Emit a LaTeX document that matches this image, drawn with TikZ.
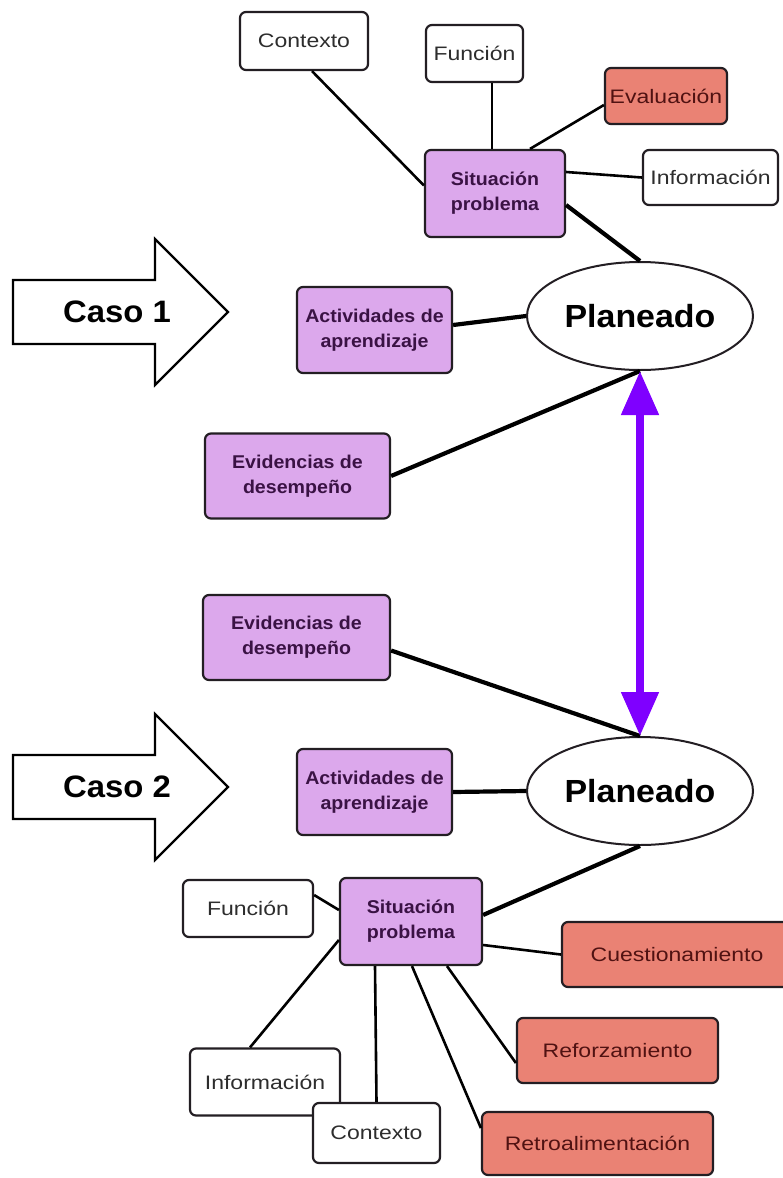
\documentclass[tikz,border=0pt]{standalone}
\usepackage{fontspec}
\setmainfont{Liberation Sans}
\newfontfamily\rfont[FakeStretch=1.18]{Liberation Sans}
\newfontfamily\bfont[FakeStretch=1.06]{Liberation Sans Bold}
\usetikzlibrary{arrows.meta,shapes.geometric}
\definecolor{pfill}{RGB}{220,168,236}
\definecolor{ptext}{RGB}{58,18,68}
\definecolor{rfill}{RGB}{234,130,116}
\definecolor{rtext}{RGB}{80,18,18}
\definecolor{wtext}{RGB}{45,45,45}
\definecolor{bordc}{RGB}{35,30,35}
\definecolor{violetarrow}{RGB}{127,0,255}
\tikzset{
  box/.style={draw=bordc, line width=2.2pt, rounded corners=6pt, inner sep=0pt, align=center},
  wbox/.style={box, fill=white, text=wtext, font=\rfont\fontsize{19.5}{23}\selectfont},
  rbox/.style={box, fill=rfill, text=rtext, font=\rfont\fontsize{19.5}{23}\selectfont},
  pbox/.style={box, fill=pfill, text=ptext, font=\bfont\fontsize{18.5}{25}\selectfont},
  plan/.style={ellipse, draw=bordc, line width=2pt, fill=white, inner sep=0pt, minimum width=226pt, minimum height=108pt, font=\bfont\fontsize{32}{36}\selectfont},
  thin/.style={draw=black, line width=2.6pt},
  thick/.style={draw=black, line width=4.2pt},
  casoarrow/.style={draw=black, line width=2.2pt, fill=white, line join=miter},
  casotext/.style={font=\bfont\fontsize{31}{36}\selectfont, text=black, inner sep=0pt},
  dbl/.style={draw=violetarrow, line width=8pt, {Triangle[length=44pt,width=36pt]}-{Triangle[length=44pt,width=36pt]}}
}
\begin{document}
\begin{tikzpicture}[x=1pt,y=-1pt]
\useasboundingbox[fill=white] (0,0) rectangle (783,1178);

% ---------- Caso arrows ----------
\draw[casoarrow] (13,280) -- (155,280) -- (155,239) -- (228,312) -- (155,385) -- (155,344) -- (13,344) -- cycle;
\node[casotext] (caso1) at (117,312) {Caso 1};
\draw[casoarrow] (13,755) -- (155,755) -- (155,714) -- (228,787) -- (155,860) -- (155,819) -- (13,819) -- cycle;
\node[casotext] (caso2) at (117,787) {Caso 2};

% ---------- Top group ----------
\node[wbox, minimum width=128pt, minimum height=58pt] (ctx1) at (304,41) {Contexto};
\node[wbox, minimum width=97pt, minimum height=57pt] (fun1) at (474.5,53.5) {Función};
\node[rbox, minimum width=122pt, minimum height=56pt] (eva1) at (666,96) {Evaluación};
\node[wbox, minimum width=135pt, minimum height=55pt] (inf1) at (710.5,177.5) {Información};
\node[pbox, minimum width=140pt, minimum height=87pt] (sit1) at (495,193.5) {Situación\\problema};
\node[plan] (pla1) at (640,316) {Planeado};
\node[pbox, minimum width=155pt, minimum height=86pt] (act1) at (374.5,330) {Actividades de\\aprendizaje};
\node[pbox, minimum width=185pt, minimum height=85pt] (evi1) at (297.5,476) {Evidencias de\\desempeño};

% ---------- Bottom group ----------
\node[pbox, minimum width=187pt, minimum height=85pt] (evi2) at (296.5,637.5) {Evidencias de\\desempeño};
\node[pbox, minimum width=155pt, minimum height=86pt] (act2) at (374.5,792) {Actividades de\\aprendizaje};
\node[plan] (pla2) at (640,791) {Planeado};
\node[pbox, minimum width=142pt, minimum height=87pt] (sit2) at (411,921.5) {Situación\\problema};
\node[wbox, minimum width=130pt, minimum height=57pt] (fun2) at (248,908.5) {Función};
\node[wbox, minimum width=150pt, minimum height=67pt] (inf2) at (265,1082) {Información};
\node[wbox, minimum width=127pt, minimum height=60pt] (ctx2) at (376.5,1133) {Contexto};
\node[rbox, minimum width=230pt, minimum height=65pt] (cue) at (677,954.5) {Cuestionamiento};
\node[rbox, minimum width=201pt, minimum height=65pt] (ref) at (617.5,1050.5) {Reforzamiento};
\node[rbox, minimum width=231pt, minimum height=63pt] (ret) at (597.5,1143.5) {Retroalimentación};

% ---------- Top connectors ----------
\begin{scope}[on background layer/.style={}]
\end{scope}
\draw[thin] ([xshift=8pt]ctx1.south) -- ([yshift=8pt]sit1.west);
\draw[thin] ([xshift=17.5pt]fun1.south) -- ([xshift=-3pt]sit1.north);
\draw[thin] ([yshift=-9pt]eva1.west) -- ([xshift=35pt]sit1.north);
\draw[thin] (inf1.west) -- ([yshift=21.5pt]sit1.east);
\draw[thick] ([yshift=-11.5pt]sit1.east) -- (pla1.north);
\draw[thick] ([yshift=5pt]act1.east) -- (pla1.west);
\draw[thick] (evi1.east) -- (pla1.south);

% ---------- Bottom connectors ----------
\draw[thick] ([yshift=-13pt]evi2.east) -- (pla2.north);
\draw[thick] (act2.east) -- (pla2.west);
\draw[thick] (pla2.south) -- ([yshift=6.5pt]sit2.east);
\draw[thin] ([yshift=13.5pt]fun2.east) -- ([yshift=11.5pt]sit2.west);
\draw[thin] ([yshift=-18.5pt]sit2.west) -- ([xshift=-15pt]inf2.north);
\draw[thin] ([xshift=-36pt]sit2.south) -- (ctx2.north);
\draw[thin] ([xshift=1pt]sit2.south) -- ([yshift=15.5pt]ret.west);
\draw[thin] ([xshift=36pt]sit2.south) -- ([yshift=-12.5pt]ref.west);
\draw[thin] ([yshift=-23.5pt]sit2.east) -- (cue.west);

% ---------- Double arrow ----------
\draw[dbl] (pla1.south) -- (pla2.north);
\end{tikzpicture}
\end{document}
